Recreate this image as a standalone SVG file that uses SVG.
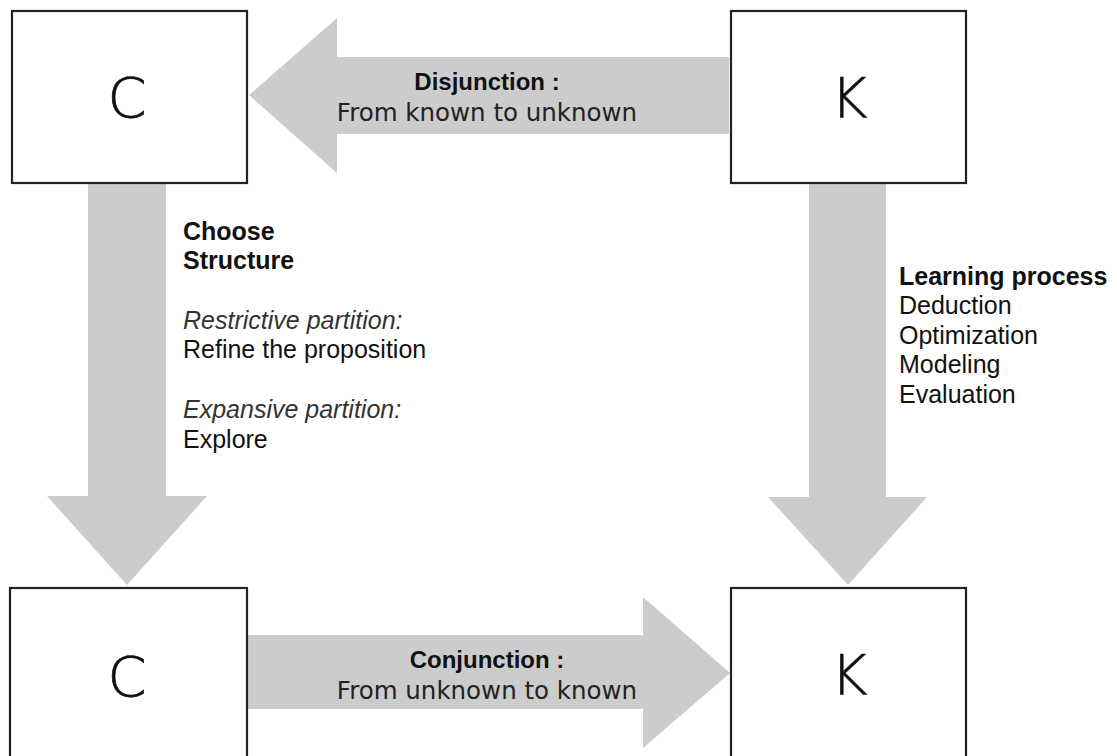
<svg xmlns="http://www.w3.org/2000/svg" width="1117" height="756" viewBox="0 0 1117 756">
<style>
.box{fill:#fff;stroke:#222;stroke-width:2.2}
.arr{fill:#cccccc;stroke:none}
.big{font-family:"DejaVu Sans",sans-serif;font-size:56px;font-weight:200;fill:#111;stroke:#111;stroke-width:0.7;text-anchor:middle}
.lbl{font-family:"DejaVu Sans",sans-serif;font-size:24.5px;fill:#222;text-anchor:middle}
.lblb{font-family:"Liberation Sans",Arial,sans-serif;font-size:24px;font-weight:bold;fill:#111;text-anchor:middle}
.t{font-family:"Liberation Sans",Arial,sans-serif;font-size:25px;fill:#111}
.tb{font-family:"Liberation Sans",Arial,sans-serif;font-size:25px;font-weight:bold;fill:#111}
.ti{font-family:"Liberation Sans",Arial,sans-serif;font-size:25px;font-style:italic;fill:#333}
</style>
<g id="connectors">
<path class="arr" d="M729,57 L337,57 L337,18 L249,95 L337,173 L337,134 L729,134 Z"/>
<path class="arr" d="M88,184 L166,184 L166,496 L207,496 L127,585 L47,496 L88,496 Z"/>
<path class="arr" d="M809,184 L886,184 L886,497 L927,497 L848,585 L768,497 L809,497 Z"/>
<path class="arr" d="M248,635 L643,635 L643,597 L730,673 L643,748 L643,709 L248,709 Z"/>
<text class="lblb" x="487" y="90">Disjunction :</text>
<text class="lbl" x="487" y="121">From known to unknown</text>
<text class="lblb" x="487" y="668">Conjunction :</text>
<text class="lbl" x="487" y="699">From unknown to known</text>
<text class="tb" x="183" y="240">Choose</text>
<text class="tb" x="183" y="269">Structure</text>
<text class="ti" x="183" y="329">Restrictive partition:</text>
<text class="t" x="183" y="358">Refine the proposition</text>
<text class="ti" x="183" y="418">Expansive partition:</text>
<text class="t" x="183" y="448">Explore</text>
<text class="tb" x="899" y="285">Learning process</text>
<text class="t" x="899" y="314">Deduction</text>
<text class="t" x="899" y="344">Optimization</text>
<text class="t" x="899" y="373">Modeling</text>
<text class="t" x="899" y="403">Evaluation</text>
</g>
<g id="node-c-top">
<rect class="box" x="12" y="11" width="235" height="172"/>
<text class="big" x="127" y="117">C</text>
</g>
<g id="node-k-top">
<rect class="box" x="731" y="11" width="235" height="172"/>
<text class="big" x="849" y="117">K</text>
</g>
<g id="node-c-bottom">
<rect class="box" x="10" y="588" width="237" height="190"/>
<text class="big" x="127" y="696">C</text>
</g>
<g id="node-k-bottom">
<rect class="box" x="731" y="588" width="235" height="190"/>
<text class="big" x="849" y="694">K</text>
</g>
</svg>
